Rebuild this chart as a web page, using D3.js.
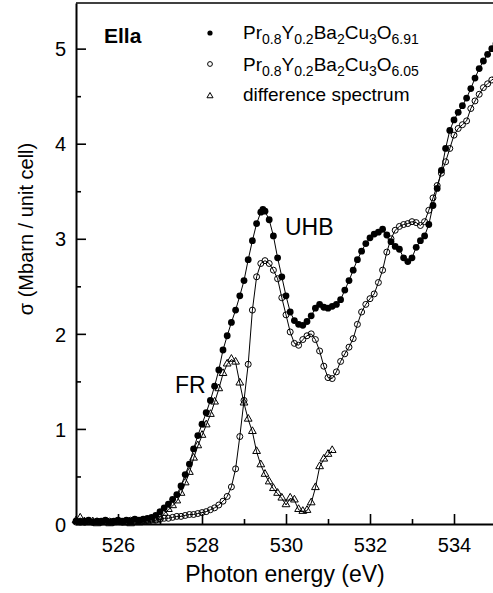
<!DOCTYPE html>
<html>
<head>
<meta charset="utf-8">
<script src="https://cdn.jsdelivr.net/npm/d3@7"></script>
<style>
body { margin: 0; background: #fff; }
text { font-family: "Liberation Sans", Arial, Helvetica, sans-serif; fill: #000; }
</style>
</head>
<body>
<svg id="chart" width="493" height="593"></svg>
<script>
// values: [photon energy (eV), sigma (Mbarn / unit cell)]
const filled691 = [
	[525.0,0.03],[525.1,0.02],[525.2,0.03],[525.3,0.04],[525.4,0.02],[525.5,0.03],[525.6,0.03],[525.7,0.04],[525.8,0.02],[525.9,0.03],
	[526.0,0.04],[526.1,0.03],[526.2,0.04],[526.3,0.03],[526.4,0.05],[526.5,0.04],[526.6,0.05],[526.7,0.06],[526.8,0.07],[526.9,0.09],
	[527.0,0.13],[527.1,0.17],[527.2,0.21],[527.3,0.26],[527.4,0.31],[527.5,0.40],[527.6,0.52],[527.7,0.63],[527.8,0.79],[527.9,0.93],
	[528.0,1.05],[528.1,1.17],[528.2,1.30],[528.3,1.45],[528.4,1.62],[528.5,1.83],[528.6,1.98],[528.7,2.12],[528.8,2.25],[528.9,2.40],
	[529.0,2.56],[529.1,2.78],[529.2,2.98],[529.3,3.16],[529.4,3.28],[529.45,3.31],[529.5,3.29],[529.6,3.20],[529.7,3.03],[529.8,2.80],[529.9,2.60],
	[530.0,2.40],[530.1,2.23],[530.2,2.14],[530.3,2.10],[530.4,2.09],[530.5,2.13],[530.6,2.19],[530.7,2.27],[530.8,2.31],[530.9,2.28],
	[531.0,2.27],[531.1,2.29],[531.2,2.31],[531.3,2.36],[531.4,2.46],[531.5,2.56],[531.6,2.67],[531.7,2.78],[531.8,2.87],[531.9,2.95],
	[532.0,3.01],[532.1,3.05],[532.2,3.07],[532.3,3.10],[532.4,3.04],[532.5,2.97],[532.6,2.92],[532.7,2.89],[532.8,2.80],[532.9,2.76],
	[533.0,2.80],[533.1,2.91],[533.2,2.98],[533.3,3.03],[533.4,3.15],[533.5,3.35],[533.6,3.53],[533.7,3.72],[533.8,3.95],[533.9,4.14],
	[534.0,4.25],[534.1,4.33],[534.2,4.40],[534.3,4.48],[534.4,4.58],[534.5,4.69],[534.6,4.79],[534.7,4.87],[534.8,4.94],[534.9,5.00],[535.0,5.05]
];

const open605 = [
	[525.0,0.02],[525.1,0.03],[525.2,0.02],[525.3,0.03],[525.4,0.02],[525.5,0.03],[525.6,0.02],[525.7,0.03],[525.8,0.03],[525.9,0.02],
	[526.0,0.03],[526.1,0.02],[526.2,0.03],[526.3,0.04],[526.4,0.03],[526.5,0.03],[526.6,0.04],[526.7,0.04],[526.8,0.05],[526.9,0.04],
	[527.0,0.05],[527.1,0.06],[527.2,0.06],[527.3,0.07],[527.4,0.08],[527.5,0.08],[527.6,0.09],[527.7,0.10],[527.8,0.10],[527.9,0.11],
	[528.0,0.12],[528.1,0.13],[528.2,0.15],[528.3,0.17],[528.4,0.20],[528.5,0.24],[528.6,0.29],[528.7,0.39],[528.8,0.58],[528.9,0.92],
	[529.0,1.30],[529.1,1.68],[529.2,2.25],[529.3,2.60],[529.4,2.74],[529.5,2.77],[529.6,2.74],[529.7,2.67],[529.8,2.58],[529.9,2.38],
	[530.0,2.20],[530.1,2.02],[530.2,1.90],[530.3,1.88],[530.4,1.94],[530.5,1.98],[530.6,2.00],[530.7,1.94],[530.8,1.82],[530.9,1.66],
	[531.0,1.54],[531.1,1.53],[531.2,1.60],[531.3,1.71],[531.4,1.79],[531.5,1.86],[531.6,1.95],[531.7,2.10],[531.8,2.23],[531.9,2.31],
	[532.0,2.37],[532.1,2.42],[532.2,2.54],[532.3,2.67],[532.4,2.86],[532.5,3.00],[532.6,3.09],[532.7,3.13],[532.8,3.15],[532.9,3.16],
	[533.0,3.18],[533.1,3.17],[533.2,3.14],[533.3,3.18],[533.4,3.30],[533.5,3.43],[533.6,3.56],[533.7,3.69],[533.8,3.81],[533.9,3.95],
	[534.0,4.09],[534.1,4.16],[534.2,4.20],[534.3,4.24],[534.4,4.37],[534.5,4.45],[534.6,4.52],[534.7,4.59],[534.8,4.63],[534.9,4.67],[535.0,4.70]
];

const diffSpec = [
	[525.0,0.03],[525.1,0.06],[525.2,0.02],[525.3,0.01],[525.4,0.02],[525.5,0.00],[525.6,0.01],[525.7,0.02],[525.8,0.00],[525.9,0.01],
	[526.0,0.02],[526.1,0.01],[526.2,0.01],[526.3,0.00],[526.4,0.02],[526.5,0.01],[526.6,0.02],[526.7,0.02],[526.8,0.03],[526.9,0.04],
	[527.0,0.07],[527.1,0.11],[527.2,0.15],[527.3,0.19],[527.4,0.24],[527.5,0.32],[527.6,0.43],[527.7,0.54],[527.8,0.69],[527.9,0.82],
	[528.0,0.93],[528.1,1.04],[528.2,1.15],[528.3,1.28],[528.4,1.42],[528.5,1.58],[528.6,1.68],[528.7,1.73],[528.8,1.70],[528.9,1.48],
	[529.0,1.27],[529.1,1.10],[529.2,0.97],[529.3,0.76],[529.4,0.62],[529.5,0.52],[529.6,0.44],[529.7,0.37],[529.8,0.32],[529.9,0.27],
	[530.0,0.20],[530.1,0.27],[530.2,0.25],[530.3,0.15],[530.4,0.13],[530.5,0.14],[530.6,0.22],[530.7,0.38],[530.8,0.60],[530.9,0.68],
	[531.0,0.73],[531.1,0.77]
];

const xTicks = [526, 528, 530, 532, 534];
const xMinorTicks = [527, 529, 531, 533];
const yTicks = [0, 1, 2, 3, 4, 5];
const yMinorTicks = [0.5, 1.5, 2.5, 3.5, 4.5];

const legendRows = [
	{ kind: 'filled', parts: [['Pr',0],['0.8',1],['Y',0],['0.2',1],['Ba',0],['2',1],['Cu',0],['3',1],['O',0],['6.91',1]] },
	{ kind: 'open', parts: [['Pr',0],['0.8',1],['Y',0],['0.2',1],['Ba',0],['2',1],['Cu',0],['3',1],['O',0],['6.05',1]] },
	{ kind: 'tri', parts: [['difference spectrum',0]] }
];

const svg = d3.select('#chart');

const x = d3.scaleLinear().domain([525, 535]).range([76, 496]);
const y = d3.scaleLinear().domain([0, 5.48]).range([524, 3]);

const line = d3.line().x(d => x(d[0])).y(d => y(d[1]));
const tri = d3.symbol(d3.symbolTriangle, 26);

// top frame line
svg.append('line')
	.attr('x1', x(525)).attr('x2', 493)
	.attr('y1', y(5.48)).attr('y2', y(5.48))
	.attr('stroke', '#000').attr('stroke-width', 1.5);

// axes
const gx = svg.append('g').attr('transform', `translate(0,${y(0)})`);
gx.call(d3.axisBottom(x).tickValues(xTicks).tickSizeInner(-10).tickSizeOuter(0).tickPadding(14).tickFormat(d3.format('d')));
const gxm = svg.append('g').attr('transform', `translate(0,${y(0)})`);
gxm.call(d3.axisBottom(x).tickValues(xMinorTicks).tickSizeInner(-5).tickSizeOuter(0).tickFormat(''));
gxm.select('.domain').remove();

const gy = svg.append('g').attr('transform', `translate(${x(525)},0)`);
gy.call(d3.axisLeft(y).tickValues(yTicks).tickSizeInner(-10).tickSizeOuter(0).tickPadding(10).tickFormat(d3.format('d')));
const gym = svg.append('g').attr('transform', `translate(${x(525)},0)`);
gym.call(d3.axisLeft(y).tickValues(yMinorTicks).tickSizeInner(-5).tickSizeOuter(0).tickFormat(''));
gym.select('.domain').remove();

svg.selectAll('.domain').attr('stroke', '#000').attr('stroke-width', 2);
svg.selectAll('.tick line').attr('stroke', '#000').attr('stroke-width', 1.6);
svg.selectAll('.tick text')
	.attr('font-family', '"Liberation Sans", Arial, sans-serif')
	.attr('font-size', 20)
	.attr('fill', '#000');
gy.selectAll('.tick text').attr('dy', '0.36em');

// series
const plot = svg.append('g');

plot.append('path').datum(open605)
	.attr('d', line).attr('fill', 'none').attr('stroke', '#000').attr('stroke-width', 1);
plot.append('path').datum(filled691)
	.attr('d', line).attr('fill', 'none').attr('stroke', '#000').attr('stroke-width', 1);
plot.append('path').datum(diffSpec)
	.attr('d', line).attr('fill', 'none').attr('stroke', '#000').attr('stroke-width', 1);

plot.append('g').selectAll('circle').data(filled691).join('circle')
	.attr('cx', d => x(d[0])).attr('cy', d => y(d[1])).attr('r', 3.4)
	.attr('fill', '#000');

plot.append('g').selectAll('circle').data(open605).join('circle')
	.attr('cx', d => x(d[0])).attr('cy', d => y(d[1])).attr('r', 3)
	.attr('fill', 'none').attr('stroke', '#000').attr('stroke-width', 1);

plot.append('g').selectAll('path').data(diffSpec).join('path')
	.attr('transform', d => `translate(${x(d[0])},${y(d[1]) - 0.5})`)
	.attr('d', tri)
	.attr('fill', 'none').attr('stroke', '#000').attr('stroke-width', 1);

// annotations
svg.append('text').attr('x', 104).attr('y', 43)
	.attr('font-size', 21).attr('font-weight', 'bold').text('Ella');
svg.append('text').attr('x', 285).attr('y', 235)
	.attr('font-size', 23).text('UHB');
svg.append('text').attr('x', 175).attr('y', 393)
	.attr('font-size', 23).text('FR');

// legend
const legendY = [33, 64, 96];
const textY = [39, 71, 101];
const legend = svg.append('g');
legendRows.forEach((row, i) => {
	if (row.kind === 'filled') {
		legend.append('circle').attr('cx', 210).attr('cy', legendY[i]).attr('r', 2.6).attr('fill', '#000');
	} else if (row.kind === 'open') {
		legend.append('circle').attr('cx', 210).attr('cy', legendY[i]).attr('r', 2.4)
			.attr('fill', 'none').attr('stroke', '#000').attr('stroke-width', 1);
	} else {
		legend.append('path').attr('transform', `translate(210,${legendY[i]})`)
			.attr('d', d3.symbol(d3.symbolTriangle, 16))
			.attr('fill', 'none').attr('stroke', '#000').attr('stroke-width', 1);
	}
	const t = legend.append('text').attr('x', 243).attr('y', textY[i]).attr('font-size', 19);
	let low = false;
	row.parts.forEach(([s, sub]) => {
		const ts = t.append('tspan').text(s);
		if (sub && !low) { ts.attr('dy', 5).attr('font-size', 14); low = true; }
		else if (sub) { ts.attr('font-size', 14); }
		else if (low) { ts.attr('dy', -5); low = false; }
	});
});

// axis titles
svg.append('text')
	.attr('transform', 'translate(33,229) rotate(-90)')
	.attr('text-anchor', 'middle').attr('font-size', 20)
	.text('σ (Mbarn / unit cell)');
svg.append('text')
	.attr('x', 285).attr('y', 582)
	.attr('text-anchor', 'middle').attr('font-size', 23)
	.text('Photon energy (eV)');
</script>
</body>
</html>
